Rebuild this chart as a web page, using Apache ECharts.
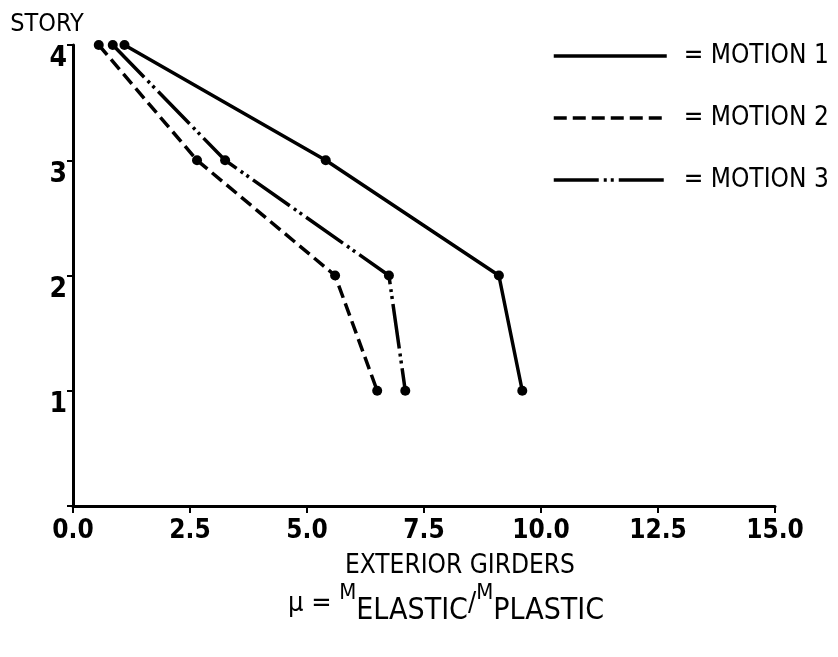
<!DOCTYPE html>
<html>
<head>
<meta charset="utf-8">
<script src="https://cdn.jsdelivr.net/npm/echarts@6/dist/echarts.min.js"></script>
<style>
  html, body { margin: 0; padding: 0; background: #fff; }
  #chart { width: 838px; height: 657px; }
</style>
</head>
<body>
<div id="chart"></div>
<script>
// story levels (y) and ductility values (x) per motion
var stories = [4, 3, 2, 1];
var motion1 = [1.1, 5.4, 9.1, 9.6];
var motion2 = [0.55, 2.65, 5.6, 6.5];
var motion3 = [0.85, 3.25, 6.75, 7.1];
var seriesNames = ['MOTION 1', 'MOTION 2', 'MOTION 3'];

var font = "'DejaVu Sans Condensed', 'Liberation Sans Narrow', sans-serif";

function pairs(xs) {
  var out = [];
  for (var i = 0; i < xs.length; i++) {
    out.push([xs[i], stories[i]]);
  }
  return out;
}

function makeSeries(name, xs, dash) {
  return {
    name: name,
    type: 'line',
    data: pairs(xs),
    symbol: 'circle',
    symbolSize: 10,
    itemStyle: { color: '#000' },
    lineStyle: { color: '#000', width: 3.5, type: dash },
    silent: true,
    animation: false
  };
}

var myChart = echarts.init(document.getElementById('chart'));
var option = {
  backgroundColor: '#fff',
  animation: false,
  grid: { left: 73, right: 63, top: 45, bottom: 151 },
  legend: {
    orient: 'vertical',
    left: 547,
    top: 38,
    itemWidth: 113,
    itemHeight: 22,
    itemGap: 36,
    data: seriesNames,
    formatter: function (name) { return '= ' + name },
    itemStyle: { opacity: 0 },
    lineStyle: { width: 3.5 },
    textStyle: { fontFamily: font, fontSize: 26, color: '#000', padding: [0, 0, 0, 12] }
  },
  xAxis: {
    type: 'value',
    min: 0,
    max: 15,
    interval: 2.5,
    axisLine: { lineStyle: { color: '#000', width: 3 } },
    axisTick: { show: true, length: 7, lineStyle: { color: '#000', width: 2 } },
    axisLabel: {
      margin: 12,
      color: '#000',
      fontFamily: font,
      fontSize: 26,
      fontWeight: 'bold',
      formatter: function (v) { return v.toFixed(1) }
    },
    splitLine: { show: false }
  },
  yAxis: {
    type: 'value',
    min: 0,
    max: 4,
    interval: 1,
    name: 'STORY',
    nameLocation: 'end',
    nameGap: 8,
    nameTextStyle: { color: '#000', fontFamily: font, fontSize: 25, padding: [0, 52, 0, 0] },
    axisLine: { lineStyle: { color: '#000', width: 3 } },
    axisTick: { show: true, length: 6, lineStyle: { color: '#000', width: 2 } },
    axisLabel: {
      margin: 6,
      color: '#000',
      fontFamily: font,
      fontSize: 28,
      fontWeight: 'bold',
      verticalAlign: 'top',
      formatter: function (v) { return v === 0 ? '' : String(v) }
    },
    splitLine: { show: false }
  },
  graphic: [
    {
      type: 'text',
      left: 345,
      top: 553,
      style: { text: 'EXTERIOR GIRDERS', fontFamily: font, fontSize: 26, fill: '#000' }
    },
    {
      type: 'text',
      left: 288,
      top: 582,
      style: {
        text: '{n|μ = }{m|M}{s|ELASTIC}{n|/}{m|M}{s|PLASTIC}',
        fontFamily: font,
        fill: '#000',
        rich: {
          n: { fontFamily: font, fontSize: 27, lineHeight: 44, verticalAlign: 'middle' },
          m: { fontFamily: font, fontSize: 22, lineHeight: 44, verticalAlign: 'top' },
          s: { fontFamily: font, fontSize: 30, lineHeight: 44, verticalAlign: 'bottom' }
        }
      }
    }
  ],
  series: [
    makeSeries(seriesNames[0], motion1, 'solid'),
    makeSeries(seriesNames[1], motion2, [13, 6]),
    makeSeries(seriesNames[2], motion3, [45, 5, 3, 4, 3, 5])
  ]
};
myChart.setOption(option);
</script>
</body>
</html>
